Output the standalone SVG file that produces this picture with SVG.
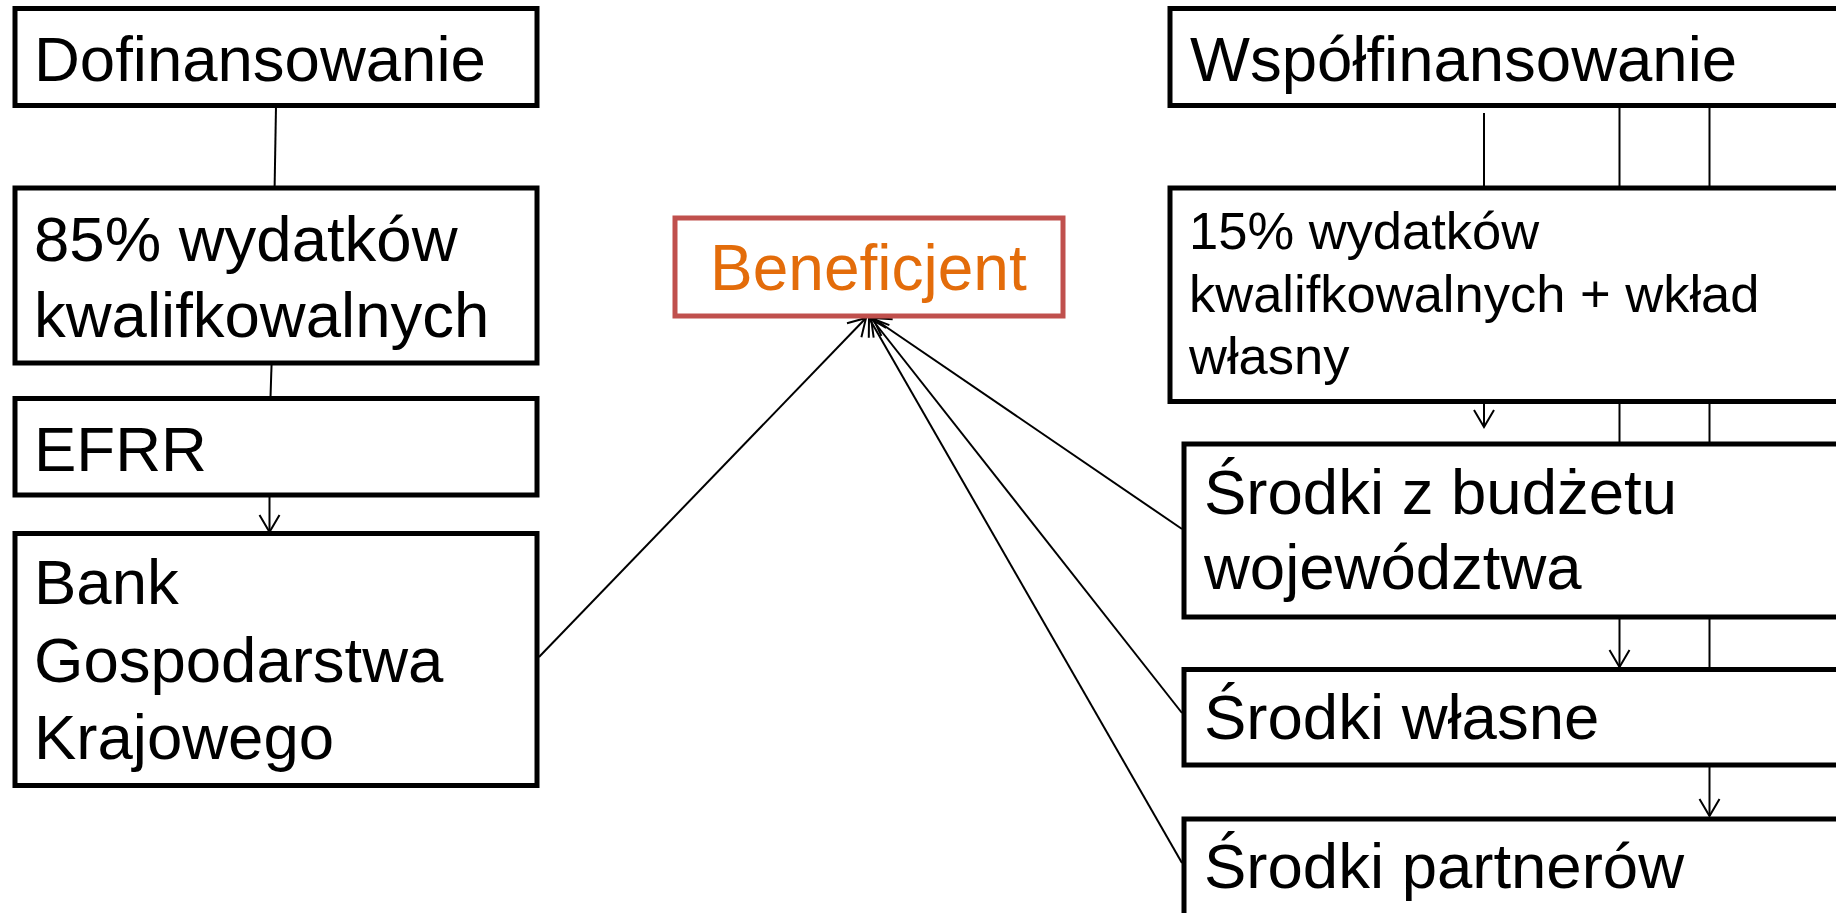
<svg xmlns="http://www.w3.org/2000/svg" width="1836" height="913" viewBox="0 0 1836 913">
<style>
.box{fill:#fff;stroke:#000;stroke-width:5}
.ben{fill:#fff;stroke:#C0504D;stroke-width:5}
.t{font-family:"Liberation Sans",Arial,sans-serif;font-size:63.5px;fill:#000}
.ts{font-family:"Liberation Sans",Arial,sans-serif;font-size:52.5px;fill:#000}
.tb{font-family:"Liberation Sans",Arial,sans-serif;font-size:64px;fill:#E36C0A}
.c{fill:none;stroke:#000;stroke-width:2}
</style>
<defs>
<marker id="arr" viewBox="-20 -12 22 24" refX="0" refY="0" markerWidth="22" markerHeight="24" markerUnits="userSpaceOnUse" orient="auto">
<path d="M-17,-10 L0,0 L-17,10" fill="none" stroke="#000" stroke-width="2"/>
</marker>
</defs>
<rect width="1836" height="913" fill="#fff"/>
<g id="connectors">
<line class="c" x1="276" y1="106" x2="274.6" y2="188"/>
<line class="c" x1="271.6" y1="363" x2="270.5" y2="398"/>
<line class="c" x1="269.5" y1="495" x2="269.5" y2="532" marker-end="url(#arr)"/>
<line class="c" x1="1484" y1="113" x2="1484" y2="188"/>
<line class="c" x1="1484" y1="403" x2="1484" y2="427" marker-end="url(#arr)"/>
<line class="c" x1="1619.5" y1="106" x2="1619.5" y2="188"/>
<line class="c" x1="1619.5" y1="402" x2="1619.5" y2="444"/>
<line class="c" x1="1619.5" y1="617" x2="1619.5" y2="667" marker-end="url(#arr)"/>
<line class="c" x1="1709.5" y1="106" x2="1709.5" y2="188"/>
<line class="c" x1="1709.5" y1="402" x2="1709.5" y2="444"/>
<line class="c" x1="1709.5" y1="617" x2="1709.5" y2="669"/>
<line class="c" x1="1709.5" y1="765" x2="1709.5" y2="816" marker-end="url(#arr)"/>
<line class="c" x1="539" y1="657" x2="866" y2="318" marker-end="url(#arr)"/>
<line class="c" x1="1182" y1="529" x2="873" y2="318" marker-end="url(#arr)"/>
<line class="c" x1="1182" y1="713" x2="871" y2="318" marker-end="url(#arr)"/>
<line class="c" x1="1182" y1="863" x2="869" y2="318" marker-end="url(#arr)"/>
</g>
<g id="dofinansowanie">
<rect class="box" x="15" y="8.5" width="522" height="97"/>
<text class="t" x="34" y="81">Dofinansowanie</text>
</g>
<g id="wydatki85">
<rect class="box" x="15" y="188" width="522" height="175"/>
<text class="t" x="34" y="261">85% wydatków</text>
<text class="t" x="34" y="337">kwalifkowalnych</text>
</g>
<g id="efrr">
<rect class="box" x="15" y="398.5" width="522" height="96.5"/>
<text class="t" x="34" y="471">EFRR</text>
</g>
<g id="bgk">
<rect class="box" x="15" y="533.5" width="522" height="252"/>
<text class="t" x="34" y="604">Bank</text>
<text class="t" x="34" y="682">Gospodarstwa</text>
<text class="t" x="34" y="759">Krajowego</text>
</g>
<g id="beneficjent">
<rect class="ben" x="675" y="218" width="388" height="98"/>
<text class="tb" x="710" y="290">Beneficjent</text>
</g>
<g id="wspolfinansowanie">
<rect class="box" x="1170" y="8.5" width="700" height="97"/>
<text class="t" x="1190" y="81">Współfinansowanie</text>
</g>
<g id="wydatki15">
<rect class="box" x="1170" y="188" width="700" height="213.5"/>
<text class="ts" x="1189" y="249">15% wydatków</text>
<text class="ts" x="1189" y="312">kwalifkowalnych + wkład</text>
<text class="ts" x="1189" y="374">własny</text>
</g>
<g id="budzet">
<rect class="box" x="1184" y="444" width="700" height="173"/>
<text class="t" x="1204" y="514">Środki z budżetu</text>
<text class="t" x="1204" y="589">województwa</text>
</g>
<g id="wlasne">
<rect class="box" x="1184" y="669.5" width="700" height="95.5"/>
<text class="t" x="1204" y="739">Środki własne</text>
</g>
<g id="partnerow">
<rect class="box" x="1184" y="819" width="700" height="150"/>
<text class="t" x="1204" y="888">Środki partnerów</text>
</g>
</svg>
